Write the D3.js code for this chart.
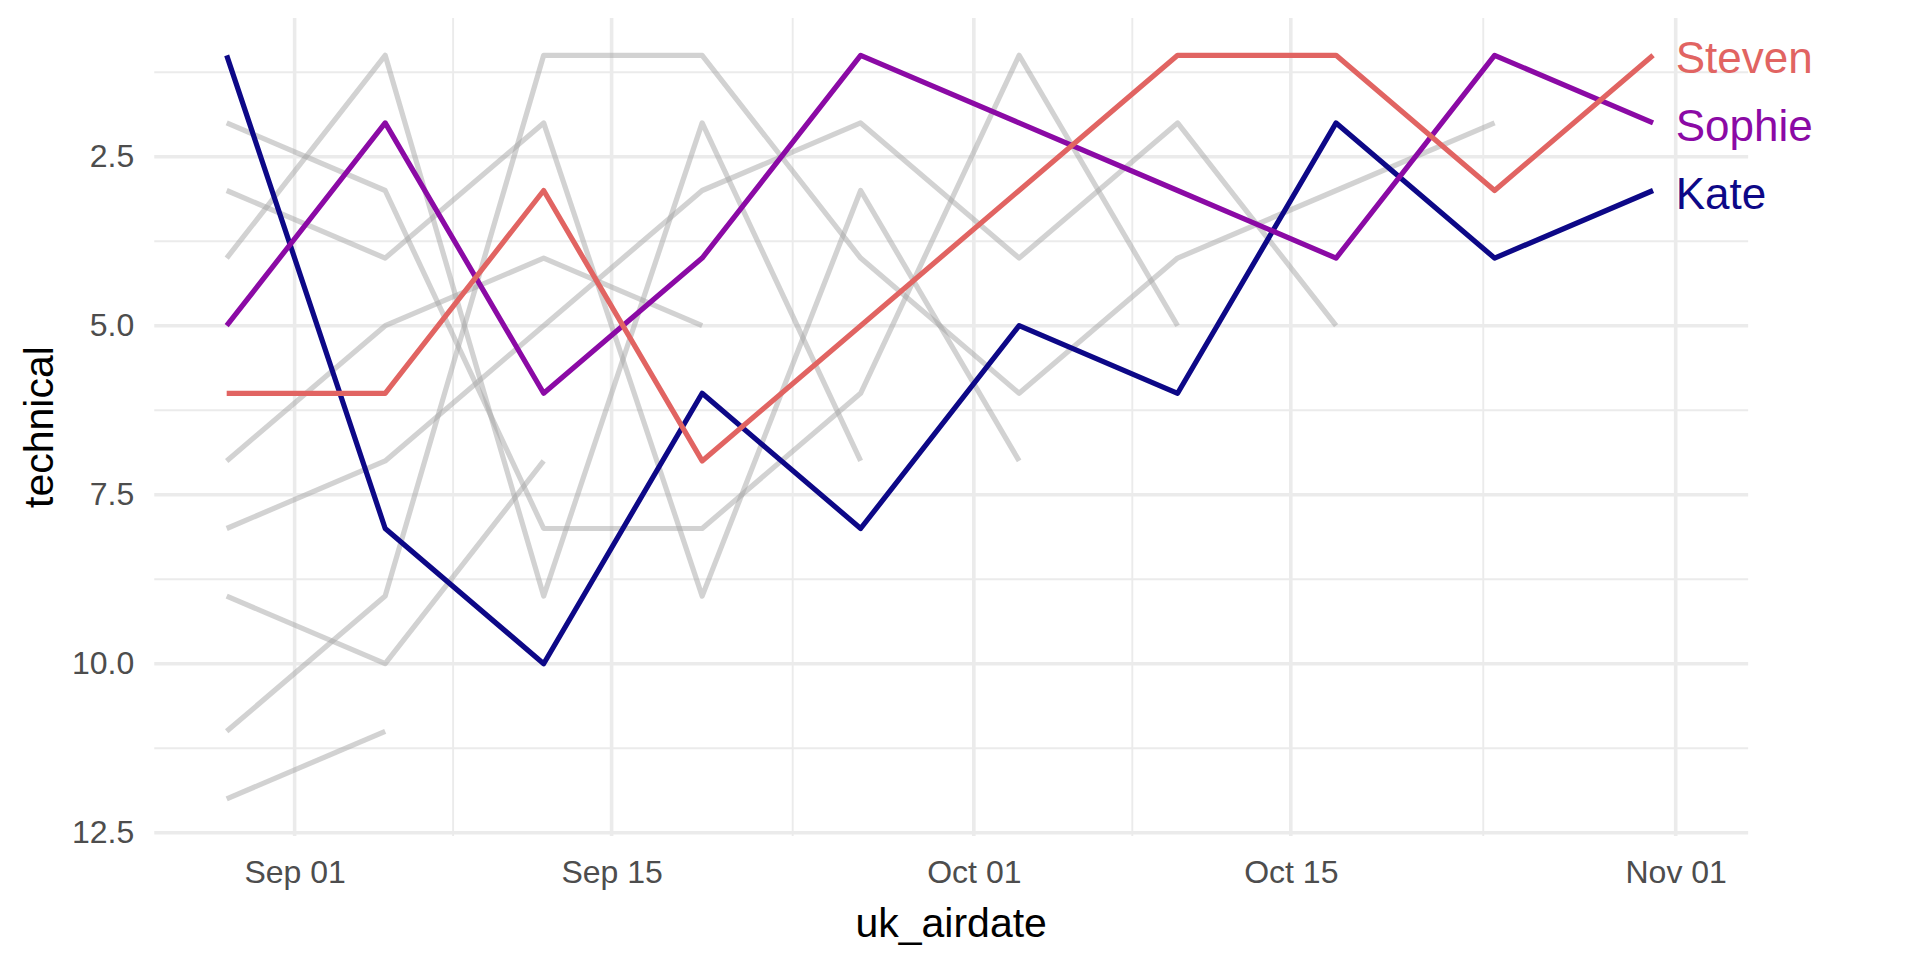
<!DOCTYPE html>
<html>
<head>
<meta charset="utf-8">
<script src="https://cdn.jsdelivr.net/npm/d3@7"></script>
<style>
  html, body { margin: 0; padding: 0; background: #fff; }
  svg { display: block; font-family: "Liberation Sans", Arial, sans-serif; }
</style>
</head>
<body>
<div id="chart"></div>
<script>
// episode air dates (series 8)
const airdates = ['2017-08-29', '2017-09-05', '2017-09-12', '2017-09-19', '2017-09-26',
                  '2017-10-03', '2017-10-10', '2017-10-17', '2017-10-24', '2017-10-31'];

// technical ranking of the three finalists, one value per episode
const finalists = ['Kate', 'Sophie', 'Steven'];
const kate   = [1, 8, 10, 6, 8, 5, 6, 2, 4, 3];
const sophie = [5, 2, 6, 4, 1, 2, 3, 4, 1, 2];
const steven = [6, 6, 3, 7, 5, 3, 1, 1, 3, 1];
const finalistColours = ['#0D0887', '#8B0AA5', '#E16462'];

// everyone else, in order of leaving (drawn grey)
const outEp1 = [10];
const outEp2 = [12, 11];
const outEp3 = [9, 10, 7];
const outEp4 = [7, 5, 4, 5];
const outEp5 = [4, 1, 9, 2, 7];
const outEp6 = [3, 4, 2, 9, 3, 7];
const outEp7 = [2, 3, 8, 8, 6, 1, 5];
const outEp8 = [8, 7, 5, 3, 2, 4, 2, 5];
const outEp9 = [11, 9, 1, 1, 4, 6, 4, 3, 2];

const xTicks = ['2017-09-01', '2017-09-15', '2017-10-01', '2017-10-15', '2017-11-01'];
const yTicks = [2.5, 5, 7.5, 10, 12.5];
const labelDate = '2017-11-01';

drawChart();

function drawChart() {
  const width = 1920;
  const height = 960;
  const parse = d3.utcParse('%Y-%m-%d');
  const dates = airdates.map(parse);

  const svg = d3.select('#chart').append('svg')
      .attr('width', width)
      .attr('height', height);

  svg.append('rect')
      .attr('width', width)
      .attr('height', height)
      .attr('fill', '#fff');

  // x range covers the air dates plus the label date, ggplot-style 5% padding
  const x = d3.scaleUtc()
      .domain([dates[0], parse(labelDate)])
      .range([226.7, 1675.7]);
  const xPad = 0.05 * (x.range()[1] - x.range()[0]);
  const panelLeft = x.range()[0] - xPad;
  const panelRight = x.range()[1] + xPad;

  // reversed: rank 1 at the top
  const y = d3.scaleLinear()
      .domain([1, 12])
      .range([55.3, 798.9]);
  const yPad = 0.05 * (y.range()[1] - y.range()[0]);
  const panelTop = y.range()[0] - yPad;
  const panelBottom = y.range()[1] + yPad;

  // grid
  const grid = svg.append('g');
  const xMajor = xTicks.map(parse);
  const xMinor = d3.pairs(xMajor).map(p => new Date((+p[0] + +p[1]) / 2));
  const yMinor = yTicks.map(v => v - 1.25);

  grid.selectAll('.y-minor')
      .data(yMinor)
      .enter()
      .append('line')
      .attr('x1', panelLeft).attr('x2', panelRight)
      .attr('y1', d => y(d)).attr('y2', d => y(d))
      .attr('stroke', '#EBEBEB')
      .attr('stroke-width', 1.9);

  grid.selectAll('.x-minor')
      .data(xMinor)
      .enter()
      .append('line')
      .attr('x1', d => x(d)).attr('x2', d => x(d))
      .attr('y1', panelTop).attr('y2', panelBottom)
      .attr('stroke', '#EBEBEB')
      .attr('stroke-width', 1.9);

  grid.selectAll('.y-major')
      .data(yTicks)
      .enter()
      .append('line')
      .attr('x1', panelLeft).attr('x2', panelRight)
      .attr('y1', d => y(d)).attr('y2', d => y(d))
      .attr('stroke', '#EBEBEB')
      .attr('stroke-width', 3.6);

  grid.selectAll('.x-major')
      .data(xMajor)
      .enter()
      .append('line')
      .attr('x1', d => x(d)).attr('x2', d => x(d))
      .attr('y1', panelTop).attr('y2', panelBottom)
      .attr('stroke', '#EBEBEB')
      .attr('stroke-width', 3.6);

  const line = d3.line()
      .x((d, i) => x(dates[i]))
      .y(d => y(d));

  // grey bakers
  const others = [outEp1, outEp2, outEp3, outEp4, outEp5, outEp6, outEp7, outEp8, outEp9];
  svg.append('g')
      .selectAll('path')
      .data(others.filter(d => d.length > 1))
      .enter()
      .append('path')
      .attr('d', line)
      .attr('fill', 'none')
      .attr('stroke', '#A6A6A6')
      .attr('stroke-opacity', 0.5)
      .attr('stroke-width', 5.2)
      .attr('stroke-linejoin', 'round');

  // finalists
  const finalistSeries = [kate, sophie, steven];
  svg.append('g')
      .selectAll('path')
      .data(finalistSeries)
      .enter()
      .append('path')
      .attr('d', line)
      .attr('fill', 'none')
      .attr('stroke', (d, i) => finalistColours[i])
      .attr('stroke-width', 5.2)
      .attr('stroke-linejoin', 'round');

  // name labels just right of the last episode
  svg.append('g')
      .selectAll('text')
      .data(finalistSeries)
      .enter()
      .append('text')
      .text((d, i) => finalists[i])
      .attr('x', x(parse(labelDate)))
      .attr('y', d => y(d[d.length - 1]) + 18)
      .attr('fill', (d, i) => finalistColours[i])
      .style('font-size', '44px');

  // axes
  const xAxis = svg.append('g')
      .attr('transform', `translate(0,${panelBottom})`)
      .call(d3.axisBottom(x)
          .tickValues(xMajor)
          .tickFormat(d3.utcFormat('%b %d'))
          .tickSize(0)
          .tickPadding(24));
  xAxis.select('.domain').remove();
  xAxis.selectAll('text')
      .attr('fill', '#4D4D4D')
      .style('font-size', '32px')
      .style('font-family', '"Liberation Sans", Arial, sans-serif');

  const yAxis = svg.append('g')
      .attr('transform', `translate(${panelLeft},0)`)
      .call(d3.axisLeft(y)
          .tickValues(yTicks)
          .tickFormat(d3.format('.1f'))
          .tickSize(0)
          .tickPadding(20));
  yAxis.select('.domain').remove();
  yAxis.selectAll('text')
      .attr('fill', '#4D4D4D')
      .style('font-size', '32px')
      .style('font-family', '"Liberation Sans", Arial, sans-serif');

  // axis titles
  svg.append('text')
      .text('uk_airdate')
      .attr('x', (panelLeft + panelRight) / 2)
      .attr('y', 937)
      .attr('text-anchor', 'middle')
      .attr('fill', '#000')
      .style('font-size', '41px');

  svg.append('text')
      .text('technical')
      .attr('transform', `translate(53,${(panelTop + panelBottom) / 2}) rotate(-90)`)
      .attr('text-anchor', 'middle')
      .attr('fill', '#000')
      .style('font-size', '41px');
}
</script>
</body>
</html>
